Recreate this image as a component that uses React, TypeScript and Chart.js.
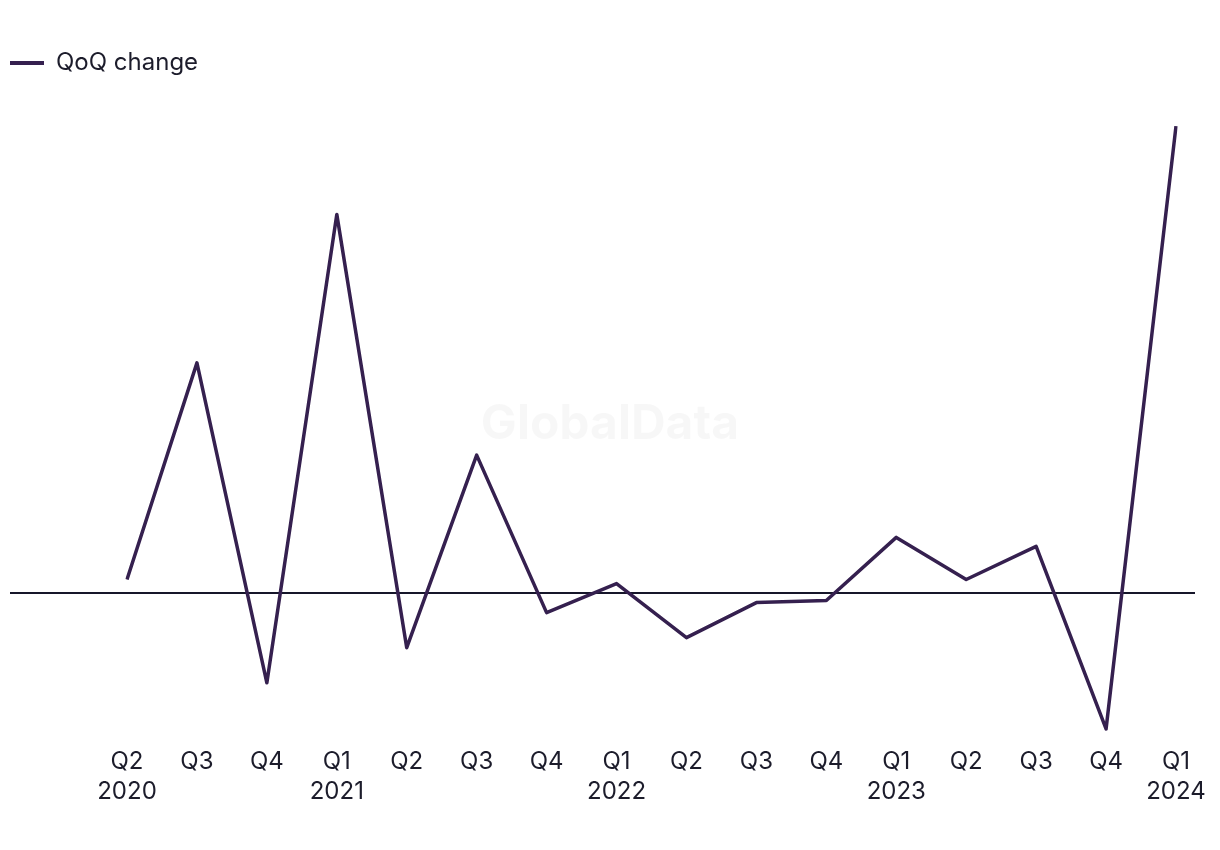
import React, { useEffect, useRef } from "react";
import { Chart, registerables } from "chart.js";

Chart.register(...registerables);

const quarters = ["Q2", "Q3", "Q4", "Q1", "Q2", "Q3", "Q4", "Q1", "Q2", "Q3", "Q4", "Q1", "Q2", "Q3", "Q4", "Q1"];
const years = ["2020", "", "", "2021", "", "", "", "2022", "", "", "", "2023", "", "", "", "2024"];
const qoqChange = [1.3, 22.9, -9.0, 37.7, -5.5, 13.7, -2.0, 0.9, -4.5, -1.0, -0.8, 5.5, 1.3, 4.6, -13.6, 46.5];

const LINE = "#35204f";
const TEXT = "#1c1c2b";
const ZERO = "#16162a";
const FONT = "Inter, 'Noto Sans', sans-serif";
const Y_MIN = -14.8;
const Y_MAX = 50.6;

const watermark = {
  id: "watermark",
  beforeDatasetsDraw(chart: any) {
    const { ctx } = chart;
    ctx.save();
    ctx.font = `bold 48px ${FONT}`;
    ctx.fillStyle = "rgba(0,0,0,0.03)";
    ctx.textAlign = "center";
    ctx.textBaseline = "middle";
    ctx.fillText("GlobalData", 610, 425);
    ctx.restore();
  },
};

export default function App() {
  const ref = useRef<HTMLCanvasElement | null>(null);
  useEffect(() => {
    document.body.style.margin = "0";
    const labels = quarters.map((q, i) => (years[i] ? [q, years[i]] : q));
    const zeroOnly = (s: any) => {
      s.ticks = [{ value: 0 }];
    };
    const chart = new Chart(ref.current!, {
      type: "line",
      data: {
        labels,
        datasets: [
          {
            label: "QoQ change",
            data: qoqChange,
            borderColor: LINE,
            backgroundColor: LINE,
            borderWidth: 3.5,
            borderJoinStyle: "round",
            pointRadius: 0,
            tension: 0,
            yAxisID: "y",
          },
        ],
      },
      options: {
        animation: false,
        responsive: false,
        maintainAspectRatio: false,
        layout: { padding: { top: 41, bottom: 37, left: 0, right: 0 } },
        plugins: {
          legend: {
            position: "top",
            align: "start",
            labels: {
              usePointStyle: true,
              pointStyle: "line",
              pointStyleWidth: 34,
              boxHeight: 24,
              padding: 10,
              color: TEXT,
              font: { family: FONT, size: 24 },
              generateLabels: (c: any) =>
                Chart.defaults.plugins.legend.labels.generateLabels(c).map((l: any) => ({
                  ...l,
                  lineWidth: 4,
                  lineCap: "butt",
                })),
            },
          },
          tooltip: { enabled: false },
        },
        scales: {
          x: {
            grid: { display: false, drawTicks: false },
            border: { display: false },
            ticks: {
              color: TEXT,
              padding: 6,
              maxRotation: 0,
              autoSkip: false,
              font: { family: FONT, size: 24, lineHeight: 1.25 },
            },
          },
          y: {
            position: "left",
            min: Y_MIN,
            max: Y_MAX,
            afterBuildTicks: zeroOnly,
            afterFit: (s: any) => {
              s.width = 127;
            },
            ticks: { display: false },
            border: { display: false },
            grid: {
              color: ZERO,
              lineWidth: 2,
              drawTicks: true,
              tickLength: 117,
            },
          },
          y2: {
            position: "right",
            min: Y_MIN,
            max: Y_MAX,
            afterBuildTicks: zeroOnly,
            afterFit: (s: any) => {
              s.width = 44;
            },
            ticks: { display: false },
            border: { display: false },
            grid: {
              color: ZERO,
              lineWidth: 2,
              drawOnChartArea: false,
              drawTicks: true,
              tickLength: 19,
            },
          },
        },
      },
      plugins: [watermark],
    });
    return () => chart.destroy();
  }, []);
  return (
    <div style={{ width: 1220, height: 850 }}>
      <canvas ref={ref} width={1220} height={850} />
    </div>
  );
}
